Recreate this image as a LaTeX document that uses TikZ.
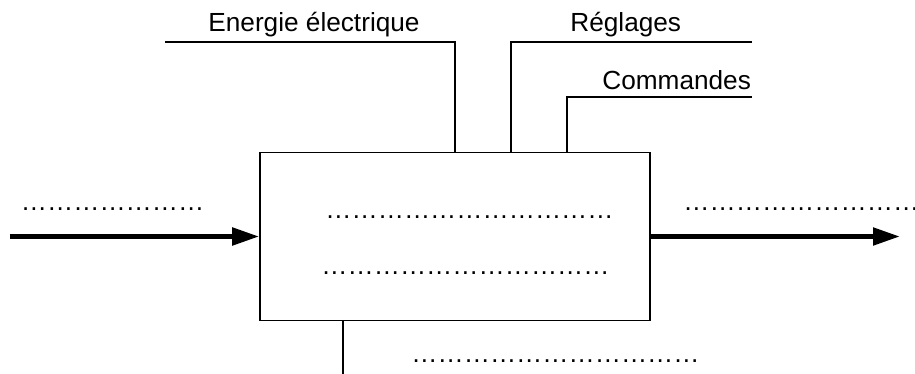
\documentclass[tikz,border=0pt]{standalone}
\usepackage{fontspec}
\setmainfont{Liberation Sans}
\usetikzlibrary{arrows.meta}

\begin{document}
\begin{tikzpicture}[x=0.5pt, y=-0.5pt,
    trait/.style = {line width=0.8pt},
    fleche/.style = {line width=2.5pt, -{Triangle[length=13.5pt, width=8.5pt]}},
    texte/.style = {anchor=base west, inner sep=0pt, font=\fontsize{13.1}{15}\selectfont}]
    \useasboundingbox (0,0) rectangle (915,374);
    % le systeme
    \node [draw, trait, minimum width=195pt, minimum height=84pt, inner sep=0pt] (sys) at (455,236.5) {};
    % entree et sortie
    \coordinate (entree) at (10,236.5);
    \coordinate (sortie) at (900,236.5);
    \draw [fleche] (entree) -- (sys.west);
    \draw [fleche] (sys.east) -- (sortie);
    % donnees de controle
    \coordinate (nrj) at (165,42);
    \coordinate (regl) at (752,42);
    \coordinate (cmd) at (752,97);
    \coordinate (bas) at (343,374);
    \draw [trait] (nrj) -| (sys.north);
    \draw [trait] (regl) -| ([xshift=28pt]sys.north);
    \draw [trait] (cmd) -| ([xshift=56pt]sys.north);
    \draw [trait] ([xshift=-56pt]sys.south) -- (bas);
    % textes
    \node [texte] (tnrj) at (208,32) {Energie électrique};
    \node [texte] (tregl) at (570,32) {Réglages};
    \node [texte] (tcmd) at (602,90) {Commandes};
    \node [texte] (pentree) at (20.5,210.5) {…………………};
    \node [texte] (psortie) at (683,210.5) {………………………};
    \node [texte] (pfct1) at (325,218.5) {……………………………};
    \node [texte] (pfct2) at (321,274.5) {……………………………};
    \node [texte] (pbas) at (411,362.5) {……………………………};
\end{tikzpicture}
\end{document}
